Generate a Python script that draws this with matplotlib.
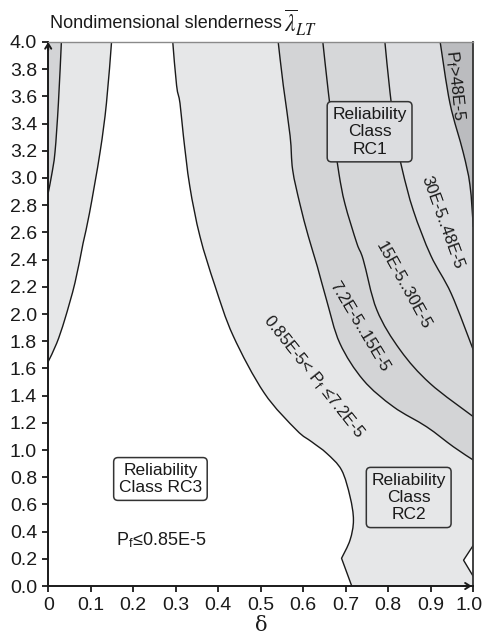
import numpy as np
import matplotlib
matplotlib.use("Agg")
import matplotlib.pyplot as plt
import matplotlib.transforms as mtransforms
from matplotlib.patches import PathPatch
from matplotlib.path import Path

plt.rcParams['font.family'] = ['Liberation Sans', 'DejaVu Sans']
plt.rcParams['mathtext.fontset'] = 'stix'

# ---- boundary curves (delta, lambda_LT) ----
curve_a_x = [0.031, 0.024, 0.016, 0.008, 0.0]
curve_a_y = [4.0, 3.55, 3.19, 3.02, 2.89]

curve_b_x = [0.149, 0.137, 0.122, 0.097, 0.082, 0.063, 0.039, 0.020, 0.0]
curve_b_y = [4.0, 3.55, 3.19, 2.74, 2.52, 2.23, 1.96, 1.785, 1.65]

curve_c_x = [0.293, 0.302, 0.310, 0.318, 0.333, 0.357, 0.392, 0.435, 0.508,
             0.584, 0.620, 0.655, 0.690, 0.710, 0.718, 0.710, 0.690]
curve_c_y = [4.0, 3.68, 3.55, 3.31, 2.94, 2.57, 2.21, 1.84, 1.42,
             1.147, 1.06, 0.976, 0.853, 0.657, 0.485, 0.338, 0.204]
curve_c_tail_x = [0.690, 0.714]
curve_c_tail_y = [0.204, 0.0]

curve_d_x = [0.541, 0.553, 0.569, 0.575, 0.592, 0.612, 0.633, 0.655, 0.686, 0.741,
             0.812, 0.890, 0.953, 1.0]
curve_d_y = [4.0, 3.68, 3.31, 3.06, 2.81, 2.57, 2.35, 2.10, 1.785, 1.515,
             1.318, 1.171, 1.024, 0.926]

curve_e_x = [0.646, 0.659, 0.672, 0.684, 0.698, 0.726, 0.741, 0.773, 0.828, 0.898, 1.0]
curve_e_y = [4.0, 3.63, 3.30, 3.03, 2.81, 2.52, 2.40, 2.03, 1.735, 1.49, 1.245]

curve_f_x = [0.792, 0.804, 0.818, 0.833, 0.859, 0.900, 0.948, 1.0]
curve_f_y = [4.0, 3.63, 3.30, 3.06, 2.76, 2.43, 2.15, 1.735]

curve_g_x = [0.922, 0.945, 0.976, 0.992, 1.0]
curve_g_y = [4.0, 3.55, 3.19, 2.95, 2.64]

notch_x = [1.0, 0.977, 1.0]
notch_y = [0.30, 0.19, 0.07]

x_ticks = [0, 0.1, 0.2, 0.3, 0.4, 0.5, 0.6, 0.7, 0.8, 0.9, 1.0]
x_ticklabels = ['0', '0.1', '0.2', '0.3', '0.4', '0.5', '0.6', '0.7', '0.8', '0.9', '1.0']
y_ticks = [round(0.2 * i, 1) for i in range(21)]
y_ticklabels = ['%.1f' % v for v in y_ticks]

# colours
c_light = '#e6e7e8'
c_72 = '#d3d4d6'
c_15 = '#d6d7d9'
c_30 = '#dcdde0'
c_48 = '#bbbcbf'
c_ink = '#1a1a1a'


def smooth(xs, ys, first_code=Path.MOVETO):
    """Vertices/codes of a smooth path through the points (Catmull-Rom as Bezier)."""
    P = np.column_stack([xs, ys]).astype(float)
    n = len(P)
    verts = [P[0]]
    codes = [first_code]
    for i in range(n - 1):
        p0 = P[i - 1] if i > 0 else P[i]
        p1, p2 = P[i], P[i + 1]
        p3 = P[i + 2] if i + 2 < n else P[i + 1]
        verts += [p1 + (p2 - p0) / 6.0, p2 - (p3 - p1) / 6.0, p2]
        codes += [Path.CURVE4] * 3
    return verts, codes


def straight(xs, ys, first_code=Path.LINETO):
    verts = [np.array([x, y]) for x, y in zip(xs, ys)]
    codes = [first_code] + [Path.LINETO] * (len(verts) - 1)
    return verts, codes


fig = plt.figure(figsize=(4.82, 6.39), dpi=100)
ax = fig.add_axes([0.100, 0.0829, 0.882, 0.8514])
ax.set_xlim(0, 1)
ax.set_ylim(0, 4)
ax.set_facecolor(c_light)


def fill(parts, fc):
    verts, codes = [], []
    for v, c in parts:
        verts += v
        codes += c
    verts.append(verts[0])
    codes.append(Path.CLOSEPOLY)
    ax.add_patch(PathPatch(Path(verts, codes), fc=fc, ec='none', zorder=1))


def line(parts):
    verts, codes = [], []
    for v, c in parts:
        verts += v
        codes += c
    ax.add_patch(PathPatch(Path(verts, codes), fc='none', ec=c_ink, lw=1.0, zorder=3,
                           joinstyle='round', capstyle='butt'))


# left strip
fill([smooth(curve_a_x, curve_a_y), straight([0.0], [4.0])], c_72)
# white region (RC3)
fill([smooth(curve_b_x[::-1], curve_b_y[::-1]),
      smooth(curve_c_x, curve_c_y, Path.LINETO),
      straight(curve_c_tail_x[1:], curve_c_tail_y[1:]),
      straight([0.0], [0.0])], 'white')
# right bands
for cx, cy, col in [(curve_d_x, curve_d_y, c_72), (curve_e_x, curve_e_y, c_15),
                    (curve_f_x, curve_f_y, c_30), (curve_g_x, curve_g_y, c_48)]:
    fill([smooth(cx, cy), straight([1.0], [4.0])], col)
fill([straight(notch_x, notch_y, Path.MOVETO)], 'white')

line([smooth(curve_a_x, curve_a_y)])
line([smooth(curve_b_x, curve_b_y)])
line([smooth(curve_c_x, curve_c_y), straight(curve_c_tail_x[1:], curve_c_tail_y[1:])])
for cx, cy in [(curve_d_x, curve_d_y), (curve_e_x, curve_e_y),
               (curve_f_x, curve_f_y), (curve_g_x, curve_g_y)]:
    line([smooth(cx, cy)])
line([straight(notch_x, notch_y, Path.MOVETO)])

# axes styling
for s in ['left', 'bottom']:
    ax.spines[s].set_linewidth(1.4)
    ax.spines[s].set_color(c_ink)
ax.spines['top'].set_color('#8a8a8a')
ax.spines['top'].set_linewidth(1.0)
ax.spines['right'].set_color('#333333')
ax.spines['right'].set_linewidth(1.3)
for s in ax.spines.values():
    s.set_zorder(6)

ax.set_xticks(x_ticks)
ax.set_xticklabels(x_ticklabels)
ax.set_yticks(y_ticks)
ax.set_yticklabels(y_ticklabels)
ax.tick_params(axis='both', direction='out', length=4, width=1.3, labelsize=14,
               colors=c_ink, pad=4)
last = ax.get_xticklabels()[-1]
last.set_transform(last.get_transform() +
                   mtransforms.ScaledTranslation(-3 / 72, 0, fig.dpi_scale_trans))

# arrow heads
ax.annotate('', xy=(0, 1.005), xycoords='axes fraction', xytext=(0, 0.98),
            arrowprops=dict(arrowstyle='->,head_length=0.35,head_width=0.22', lw=1.4, color=c_ink),
            annotation_clip=False, zorder=7)
ax.annotate('', xy=(1.003, 0), xycoords='axes fraction', xytext=(0.97, 0),
            arrowprops=dict(arrowstyle='->,head_length=0.35,head_width=0.22', lw=1.4, color=c_ink),
            annotation_clip=False, zorder=7)

fig.text(0.104, 0.964, 'Nondimensional slenderness', fontsize=13,
         ha='left', va='center', color=c_ink)
fig.text(0.590, 0.964, r'$\overline{\lambda}_{LT}$', fontsize=17,
         ha='left', va='center', color=c_ink)
ax.set_xlabel('δ', family=['DejaVu Serif'], fontsize=15, labelpad=1, color=c_ink)

box = dict(boxstyle='round,pad=0.3,rounding_size=0.25', ec='#333333', lw=1.1)
ax.text(0.756, 3.34, 'Reliability\nClass\nRC1', ha='center', va='center', fontsize=12.5,
        bbox=dict(box, fc='#dcdde0'), zorder=8, color=c_ink)
ax.text(0.264, 0.787, 'Reliability\nClass RC3', ha='center', va='center', fontsize=12.5,
        bbox=dict(box, fc='white'), zorder=8, color=c_ink)
ax.text(0.848, 0.651, 'Reliability\nClass\nRC2', ha='center', va='center', fontsize=12.5,
        bbox=dict(box, fc=c_light), zorder=8, color=c_ink)

ax.text(0.267, 0.338, r'P$_\mathregular{f}$≤0.85E-5', ha='center', va='center', fontsize=13,
        zorder=8, color=c_ink)
lab_kw = dict(ha='center', va='center', fontsize=12, rotation_mode='anchor', zorder=8,
              color=c_ink)
ax.text(0.957, 3.68, r'P$_\mathregular{f}$>48E-5', rotation=-84, **lab_kw)
ax.text(0.927, 2.67, '30E-5..48E-5', rotation=-70, **lab_kw)
ax.text(0.835, 2.21, '15E-5..30E-5', rotation=-61, **lab_kw)
ax.text(0.733, 1.91, '7.2E-5..15E-5', rotation=-59, **lab_kw)
ax.text(0.624, 1.54, r'0.85E-5< P$_\mathregular{f}$ ≤7.2E-5', rotation=-51.5, **lab_kw)

fig.savefig('out.png', dpi=100)
